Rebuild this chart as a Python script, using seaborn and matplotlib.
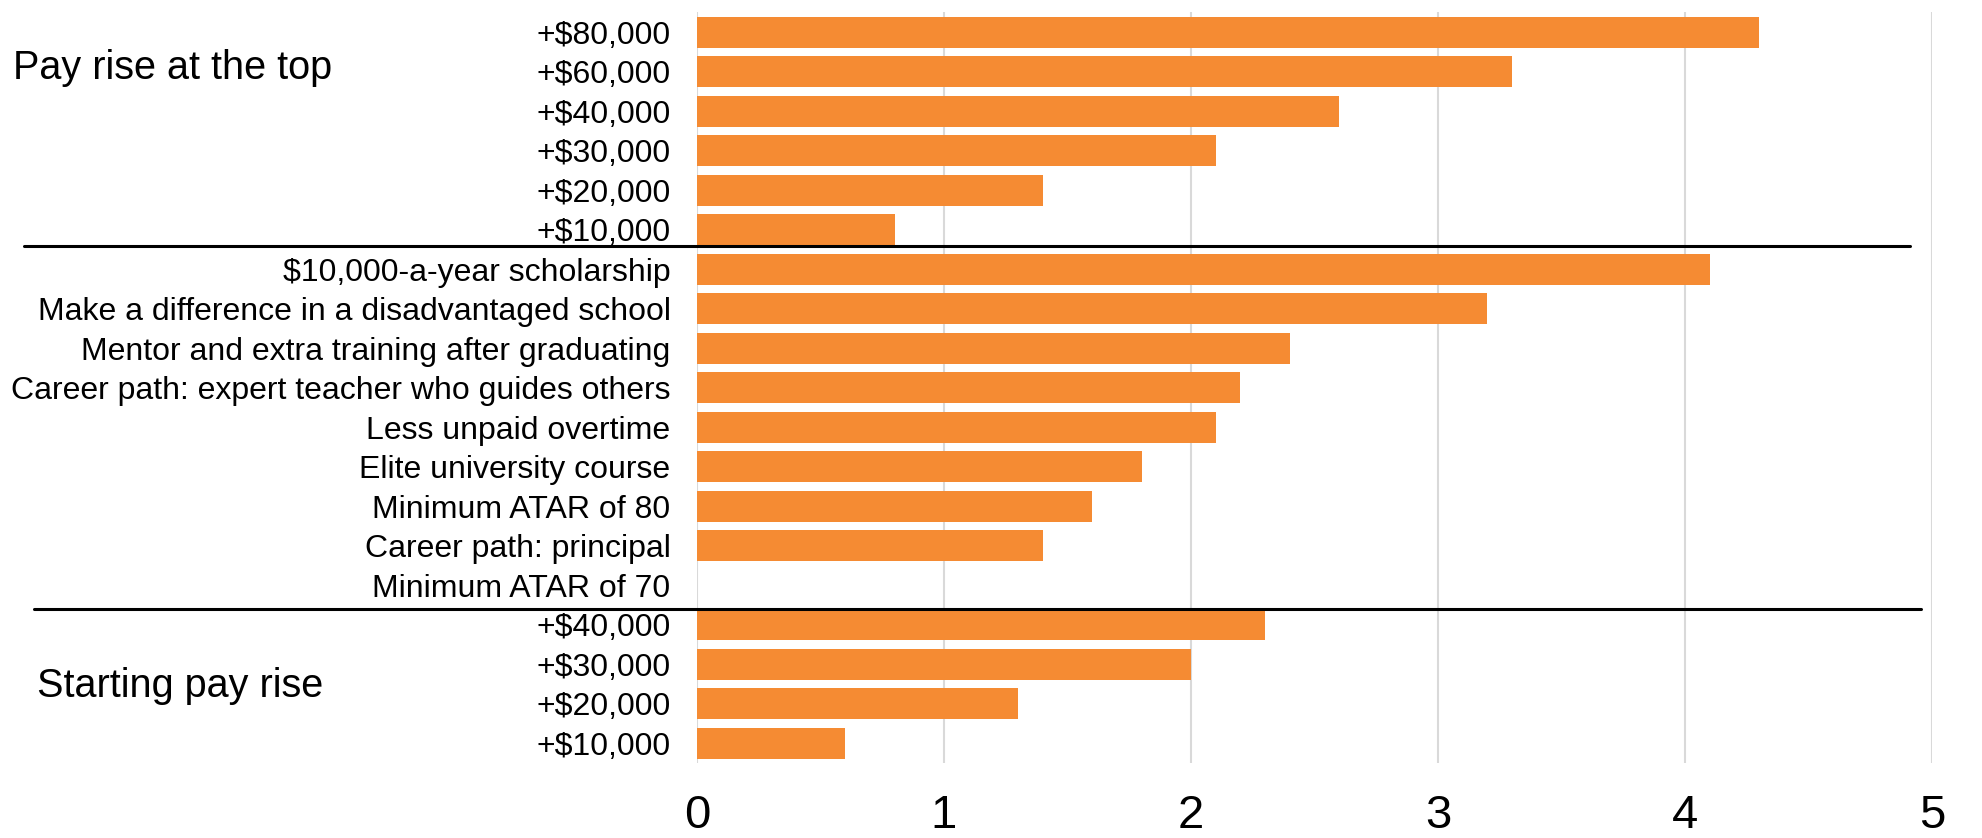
import matplotlib
matplotlib.use("Agg")
import matplotlib.pyplot as plt
import seaborn as sns
import pandas as pd
import matplotlib.transforms as mtransforms

sns.set_style("white")
plt.rcParams['font.family'] = ['Liberation Sans', 'DejaVu Sans']
plt.rcParams['text.color'] = 'black'
plt.rcParams['xtick.color'] = 'black'
plt.rcParams['ytick.color'] = 'black'

# ---- data ----
top_labels = ["+$80,000", "+$60,000", "+$40,000", "+$30,000", "+$20,000", "+$10,000"]
top_values = [4.3, 3.3, 2.6, 2.1, 1.4, 0.8]

mid_labels = ["$10,000-a-year scholarship",
              "Make a difference in a disadvantaged school",
              "Mentor and extra training after graduating",
              "Career path: expert teacher who guides others",
              "Less unpaid overtime",
              "Elite university course",
              "Minimum ATAR of 80",
              "Career path: principal",
              "Minimum ATAR of 70"]
mid_values = [4.1, 3.2, 2.4, 2.2, 2.1, 1.8, 1.6, 1.4, 0.0]

start_labels = ["+$40,000", "+$30,000", "+$20,000", "+$10,000"]
start_values = [2.3, 2.0, 1.3, 0.6]

group_names = ["Pay rise at the top", "Starting pay rise"]
x_ticks = [0, 1, 2, 3, 4, 5]

labels = top_labels + mid_labels + start_labels
values = top_values + mid_values + start_values
keys = [f"r{i:02d}" for i in range(len(labels))]
df = pd.DataFrame({"key": keys, "value": values})

fig = plt.figure(figsize=(19.82, 8.38), dpi=100)
ax = fig.add_axes([697 / 1982, 1 - 763 / 838, (1932 - 697) / 1982, (763 - 12.5) / 838])

sns.barplot(data=df, x="value", y="key", order=keys, color="#F58B33",
            saturation=1, width=0.79, ax=ax, edgecolor="none", linewidth=0)

ax.set_xlim(0, 5)
ax.set_ylim(len(labels) - 0.5, -0.5)
ax.set_xticks(x_ticks)
ax.set_xticklabels([str(t) for t in x_ticks], fontsize=34)
ax.set_yticks(range(len(labels)))
ax.set_yticklabels(labels, fontsize=23)
ax.tick_params(axis="y", length=0, pad=19)
ax.tick_params(axis="x", length=0, pad=22)
ax.set_xlabel("")
ax.set_ylabel("")
for s in ax.spines.values():
    s.set_visible(False)
ax.grid(axis="x", color="#d9d9d9", linewidth=1.5)
ax.set_axisbelow(True)

# separator lines (x in figure coords, y in data coords)
trans = mtransforms.blended_transform_factory(fig.transFigure, ax.transData)
ax.plot([24 / 1982, 1910 / 1982], [5.4, 5.4], transform=trans, color="black",
        linewidth=2.2, clip_on=False, zorder=5)
ax.plot([34 / 1982, 1921 / 1982], [14.6, 14.6], transform=trans, color="black",
        linewidth=2.2, clip_on=False, zorder=5)

# group labels
fig.text(13 / 1982, 1 - 68 / 838, group_names[0], fontsize=28.5, va="center", ha="left")
fig.text(37 / 1982, 1 - 686 / 838, group_names[1], fontsize=28.5, va="center", ha="left")

fig.savefig("out.png", dpi=100, facecolor="white")
